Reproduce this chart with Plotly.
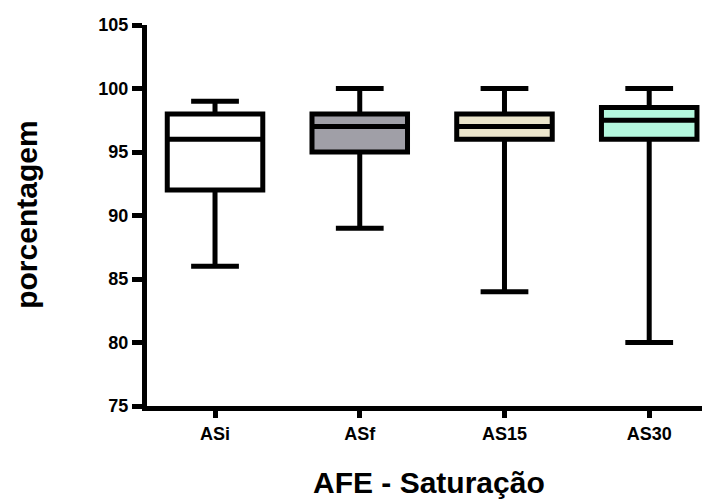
import plotly.graph_objects as go

categories = ["ASi", "ASf", "AS15", "AS30"]
minimum = [86, 89, 84, 80]
q1 = [92, 95, 96, 96]
median = [96, 97, 97, 97.5]
q3 = [98, 98, 98, 98.5]
maximum = [99, 100, 100, 100]
fill_colors = ["#ffffff", "#a09fa7", "#ebe5cb", "#b4f7de"]
y_ticks = [75, 80, 85, 90, 95, 100, 105]

fig = go.Figure()
for i, cat in enumerate(categories):
    fig.add_trace(go.Box(
        x=[i], q1=[q1[i]], median=[median[i]], q3=[q3[i]],
        lowerfence=[minimum[i]], upperfence=[maximum[i]],
        name=cat, fillcolor=fill_colors[i],
        line=dict(color="black", width=5),
        whiskerwidth=0.5, width=0.66, boxpoints=False,
        showlegend=False, hoverinfo="skip",
    ))

font_family = "Liberation Sans, Arial, sans-serif"

# page body has an 8px default margin; compensate so the plot lands where the reference has it
fig.update_layout(
    width=702, height=492,
    margin=dict(l=139, r=0, t=17, b=94),
    plot_bgcolor="white", paper_bgcolor="white",
    font=dict(family=font_family, color="black"),
    xaxis=dict(
        range=[-0.47, 3.42], tickvals=list(range(len(categories))), ticktext=categories,
        showline=True, linecolor="black", linewidth=5,
        ticks="outside", ticklen=7, tickwidth=5, tickcolor="black",
        showgrid=False, zeroline=False,
        tickfont=dict(size=18, family=font_family, weight="bold"),
    ),
    yaxis=dict(
        range=[75, 105], tickvals=y_ticks,
        showline=True, linecolor="black", linewidth=5,
        ticks="outside", ticklen=10, tickwidth=5, tickcolor="black",
        showgrid=False, zeroline=False,
        tickfont=dict(size=18, family=font_family, weight="bold"),
    ),
    annotations=[
        dict(text="<b>AFE - Saturação</b>", xref="paper", yref="paper",
             x=0.5, y=-0.2, xanchor="center", yanchor="middle",
             showarrow=False, font=dict(size=30, family=font_family)),
        dict(text="<b>porcentagem</b>", xref="paper", yref="paper",
             x=-0.213, y=0.502, xanchor="center", yanchor="middle",
             textangle=-90, showarrow=False,
             font=dict(size=30, family=font_family)),
    ],
)

fig.write_html("out.html")
